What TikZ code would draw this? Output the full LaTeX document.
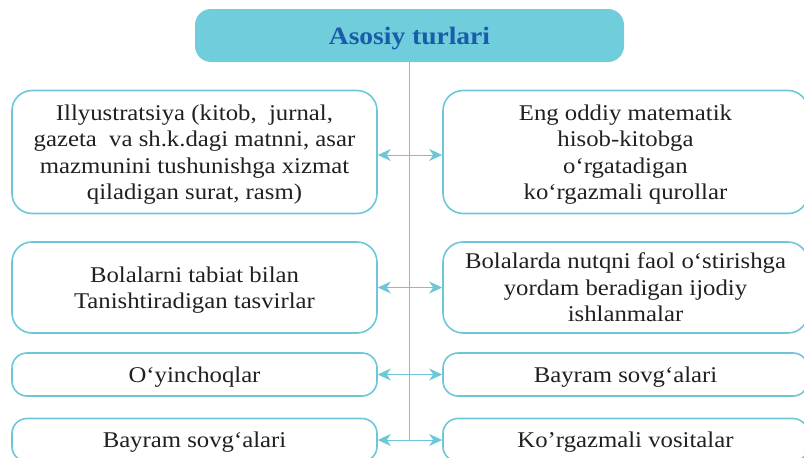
\documentclass[tikz,border=0pt]{standalone}
\usepackage{fontspec}
\setmainfont{Liberation Serif}[FakeStretch=1.1]
\usetikzlibrary{arrows.meta}

\definecolor{tealfill}{RGB}{112,205,219}
\definecolor{tealline}{RGB}{108,200,216}
\definecolor{titleblue}{RGB}{24,92,170}
\definecolor{textgrey}{RGB}{35,31,32}

\tikzset{
    kindbox/.style={draw=tealline, line width=1.6pt, rounded corners=20pt,
        align=center, text=textgrey, inner sep=0pt, minimum width=365pt,
        font=\fontsize{22.5}{26.5}\selectfont, text depth=-10pt},
    smallbox/.style={kindbox, rounded corners=15pt, minimum height=43pt, text depth=-4pt},
    link/.style={tealline, line width=1pt,
        {Stealth[length=13pt,width=12pt,inset=4pt]}-{Stealth[length=13pt,width=12pt,inset=4pt]}},
    trunk/.style={tealline, line width=1.5pt}
}

\begin{document}
\begin{tikzpicture}[x=1pt,y=-1pt]

    \clip (0,0) rectangle (804,458);

    %----- TITLE -----
    \node[fill=tealfill, rounded corners=16pt, minimum width=429pt, minimum height=53pt,
          text=titleblue, font=\fontsize{25}{29}\selectfont\bfseries, text depth=-2pt]
        (title) at (409.5,35.5) {Asosiy turlari};

    %----- LEFT COLUMN -----
    \node[kindbox, minimum height=123pt] (l1) at (194.5,152)
        {Illyustratsiya (kitob,~ jurnal,\\gazeta~ va sh.k.dagi matnni, asar\\mazmunini tushunishga xizmat\\qiladigan surat, rasm)};
    \node[kindbox, minimum height=91pt] (l2) at (194.5,287.5)
        {Bolalarni tabiat bilan\\Tanishtiradigan tasvirlar};
    \node[smallbox] (l3) at (194.5,374.5) {O‘yinchoqlar};
    \node[smallbox] (l4) at (194.5,440) {Bayram sovg‘alari};

    %----- RIGHT COLUMN -----
    \node[kindbox, minimum height=123pt] (r1) at (625.5,152)
        {Eng oddiy matematik\\hisob-kitobga\\o‘rgatadigan\\ko‘rgazmali qurollar};
    \node[kindbox, minimum height=91pt] (r2) at (625.5,287.5)
        {Bolalarda nutqni faol o‘stirishga\\yordam beradigan ijodiy\\ishlanmalar};
    \node[smallbox] (r3) at (625.5,374.5) {Bayram sovg‘alari};
    \node[smallbox] (r4) at (625.5,440) {Ko’rgazmali vositalar};

    %----- TRUNK AND LINKS -----
    \coordinate (trunkend) at (title.south |- l4.east);
    \draw[trunk] (title.south) -- (trunkend);

    % top row meets the trunk a little below the box middle
    \draw[link] ([yshift=-3pt]l1.east) -- ([yshift=-3pt]r1.west);
    \foreach \row in {2,...,4}
        \draw[link] (l\row.east) -- (r\row.west);

\end{tikzpicture}
\end{document}
